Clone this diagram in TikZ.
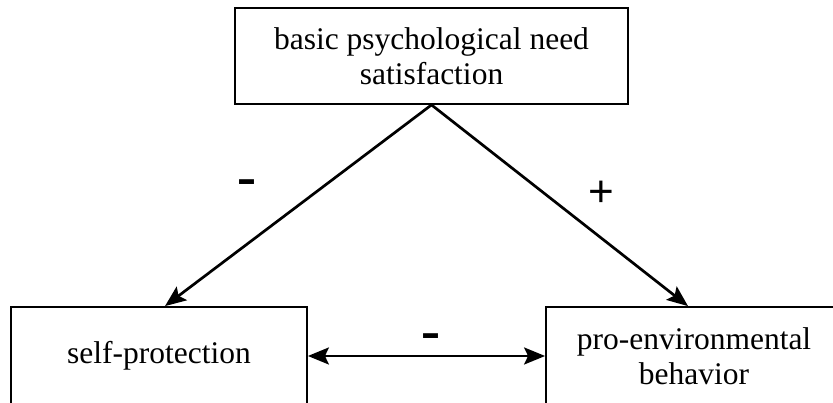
\documentclass[tikz,border=0pt]{standalone}
\usepackage{fontspec}
\setmainfont{Liberation Serif}
\newfontfamily\signfont{DejaVu Sans}
\newfontfamily\plusfont{Liberation Sans}
\usetikzlibrary{arrows.meta}
\tikzset{
  varbox/.style={draw=black, line width=1.8pt, inner sep=0pt, align=center,
    font=\fontsize{31.5}{35}\selectfont},
  conn/.style={draw=black, line width=2.7pt},
  minus label/.style={font=\signfont\bfseries\fontsize{38}{38}\selectfont, inner sep=0pt},
  plus label/.style={font=\plusfont\fontsize{44}{44}\selectfont, inner sep=0pt},
}
\begin{document}
\begin{tikzpicture}[x=1pt,y=1pt]
  \useasboundingbox (0,0) rectangle (833,403);
  \clip (0,0) rectangle (833,403);

  % the three variables
  \node[varbox, minimum width=393pt, minimum height=96pt] (need) at (431.5,347)
    {basic psychological need\\satisfaction};
  \node[varbox, minimum width=296pt, minimum height=98pt] (self) at (159,47)
    {self-protection};
  \node[varbox, minimum width=296pt, minimum height=98pt] (pro) at (694,47)
    {pro-environmental\\behavior};

  % paths
  \draw[conn, -{Stealth[length=21pt,width=17pt,inset=4pt]}]
    (need.south) -- ([xshift=6pt]self.north);
  \draw[conn, -{Stealth[length=21pt,width=17pt,inset=4pt]}]
    (need.south) -- ([xshift=-6pt]pro.north);
  \draw[conn, {Stealth[length=21pt,width=17pt,inset=4pt]}-{Stealth[length=21pt,width=17pt,inset=4pt]}]
    (self.east) -- (pro.west);

  % signs of the paths
  \node[minus label] (m1) at (247,217) {–};
  \node[plus label] (p1) at (601,209) {+};
  \node[minus label] (m2) at (431,63) {–};
\end{tikzpicture}
\end{document}
